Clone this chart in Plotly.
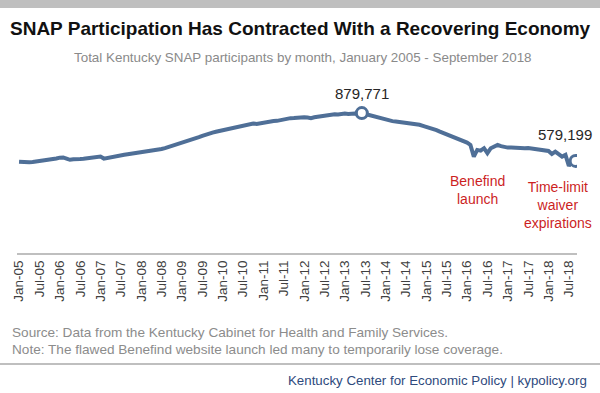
import plotly.graph_objects as go

# Monthly totals, Jan 2005 - Sep 2018
participants_2005 = [574600, 572100, 571300, 570900, 572800, 575400, 580200, 585100, 586900, 589300, 591800, 594200]
participants_2006 = [599800, 601200, 593500, 586100, 589400, 588200, 590700, 592300, 596100, 597800, 599300, 603400]
participants_2007 = [606200, 593800, 598700, 601500, 604900, 607800, 612600, 618200, 621300, 624100, 627800, 630400]
participants_2008 = [632600, 635900, 639200, 642300, 644000, 649100, 653800, 659100, 665400, 672300, 679800, 686500]
participants_2009 = [693200, 699100, 705800, 711400, 719700, 728400, 736200, 744800, 751300, 757400, 762800, 767900]
participants_2010 = [772600, 778800, 782400, 786300, 791400, 797800, 804200, 810300, 812600, 814900, 811800, 816500]
participants_2011 = [818300, 820400, 824100, 829800, 831100, 836300, 841200, 846900, 848100, 849300, 851800, 853600]
participants_2012 = [854400, 851600, 848100, 853900, 858200, 861300, 864500, 866900, 869800, 873300, 871400, 876200]
participants_2013 = [877800, 874900, 878600, 877200, 876100, 879771, 874300, 868900, 862100, 855400, 847200, 843700]
participants_2014 = [838100, 831100, 829300, 827600, 824800, 823900, 822100, 820400, 815600, 811200, 806400, 799600]
participants_2015 = [794300, 788100, 781500, 773200, 763700, 755400, 746100, 737300, 725900, 718400, 711100, 703600]
participants_2016 = [694400, 679900, 606200, 648400, 644000, 659100, 627600, 659100, 668200, 679900, 671800, 665300]
participants_2017 = [662900, 664100, 661800, 660200, 659700, 659100, 660400, 657800, 656900, 654700, 651300, 646800]
participants_2018 = [642100, 623200, 637700, 621400, 606200, 616900, 547600, 585400, 579199]

tick_labels = ["Jan-05", "Jul-05", "Jan-06", "Jul-06", "Jan-07", "Jul-07", "Jan-08", "Jul-08",
               "Jan-09", "Jul-09", "Jan-10", "Jul-10", "Jan-11", "Jul-11", "Jan-12", "Jul-12",
               "Jan-13", "Jul-13", "Jan-14", "Jul-14", "Jan-15", "Jul-15", "Jan-16", "Jul-16",
               "Jan-17", "Jul-17", "Jan-18", "Jul-18"]

peak_label = "879,771"
last_label = "579,199"

values = (participants_2005 + participants_2006 + participants_2007 + participants_2008 +
          participants_2009 + participants_2010 + participants_2011 + participants_2012 +
          participants_2013 + participants_2014 + participants_2015 + participants_2016 +
          participants_2017 + participants_2018)
idx = list(range(len(values)))
peak_i = values.index(max(values))
last_i = len(values) - 1

W, H = 600, 393
ML, MR, MT, MB = 17, 23, 94, 140
PW = W - ML - MR
PH = H - MT - MB
FONT = "Liberation Sans, Arial, sans-serif"

def px_x(x):
    return (x - ML) / PW

def px_y(y):
    return (H - MB - y) / PH

LINE = "#4f6f97"

fig = go.Figure()
fig.add_trace(go.Scatter(x=idx, y=values, mode="lines",
                         line=dict(color=LINE, width=4), hoverinfo="skip"))
fig.add_trace(go.Scatter(x=[peak_i, last_i], y=[values[peak_i], values[last_i]], mode="markers",
                         marker=dict(size=11, color="white", line=dict(color=LINE, width=3)),
                         hoverinfo="skip"))

ann = []
ann.append(dict(text="<b>SNAP Participation Has Contracted With a Recovering Economy</b>",
                x=px_x(300), xref="paper", y=px_y(28), yref="paper", xanchor="center", yanchor="middle",
                showarrow=False, font=dict(family=FONT, size=19, color="#111111")))
ann.append(dict(text="Total Kentucky SNAP participants by month, January 2005 - September 2018",
                x=px_x(303), xref="paper", y=px_y(57), yref="paper", xanchor="center", yanchor="middle",
                showarrow=False, font=dict(family=FONT, size=13.4, color="#8a8a8a")))
ann.append(dict(text=peak_label, x=peak_i, xref="x", y=values[peak_i], yref="y",
                yshift=20, xanchor="center", yanchor="middle", showarrow=False,
                font=dict(family=FONT, size=15, color="#262626")))
ann.append(dict(text=last_label, x=last_i - 3, xref="x", y=values[last_i], yref="y",
                yshift=26, xanchor="center", yanchor="middle", showarrow=False,
                font=dict(family=FONT, size=15, color="#262626")))
ann.append(dict(text="Benefind<br>launch", x=px_x(477), xref="paper", y=px_y(190), yref="paper",
                xanchor="center", yanchor="middle", showarrow=False, align="center",
                font=dict(family=FONT, size=14, color="#cc1f1f")))
ann.append(dict(text="Time-limit<br>waiver<br>expirations", x=px_x(558), xref="paper", y=px_y(205),
                yref="paper", xanchor="center", yanchor="middle", showarrow=False, align="center",
                font=dict(family=FONT, size=14, color="#cc1f1f")))
ann.append(dict(text="Source: Data from the Kentucky Cabinet for Health and Family Services.",
                x=px_x(10), xref="paper", y=px_y(332), yref="paper", xanchor="left", yanchor="middle",
                showarrow=False, font=dict(family=FONT, size=13.6, color="#8c8c8c")))
ann.append(dict(text="Note: The flawed Benefind website launch led many to temporarily lose coverage.",
                x=px_x(10), xref="paper", y=px_y(349), yref="paper", xanchor="left", yanchor="middle",
                showarrow=False, font=dict(family=FONT, size=13.6, color="#8c8c8c")))
ann.append(dict(text="Kentucky Center for Economic Policy | kypolicy.org",
                x=px_x(589), xref="paper", y=px_y(380), yref="paper", xanchor="right", yanchor="middle",
                showarrow=False, font=dict(family=FONT, size=13.3, color="#2e4a7d")))

shapes = [
    dict(type="rect", xref="paper", yref="paper", x0=px_x(0), x1=px_x(600), y0=px_y(0), y1=px_y(8),
         fillcolor="#bfbfbf", line=dict(width=0), layer="below"),
    dict(type="line", xref="paper", yref="paper", x0=px_x(0), x1=px_x(600), y0=px_y(364), y1=px_y(364),
         line=dict(color="#bfbfbf", width=2)),
]

fig.update_layout(
    width=W, height=H, margin=dict(l=ML, r=MR, t=MT, b=MB, pad=0),
    paper_bgcolor="white", plot_bgcolor="white", showlegend=False,
    annotations=ann, shapes=shapes,
    xaxis=dict(range=[-0.6, len(values) - 0.6], tickmode="array",
               tickvals=list(range(0, len(values), 6)), ticktext=tick_labels,
               tickangle=-90, showgrid=False, zeroline=False, showline=True,
               linecolor="#bfbfbf", linewidth=2, ticks="",
               tickfont=dict(family=FONT, size=13.5, color="#404040")),
    yaxis=dict(range=[0, 1000000], visible=False, showgrid=False, zeroline=False),
)

fig.write_html("out.html", config={"displayModeBar": False},
               post_script="document.body.style.margin='0';document.body.style.overflow='hidden';")
